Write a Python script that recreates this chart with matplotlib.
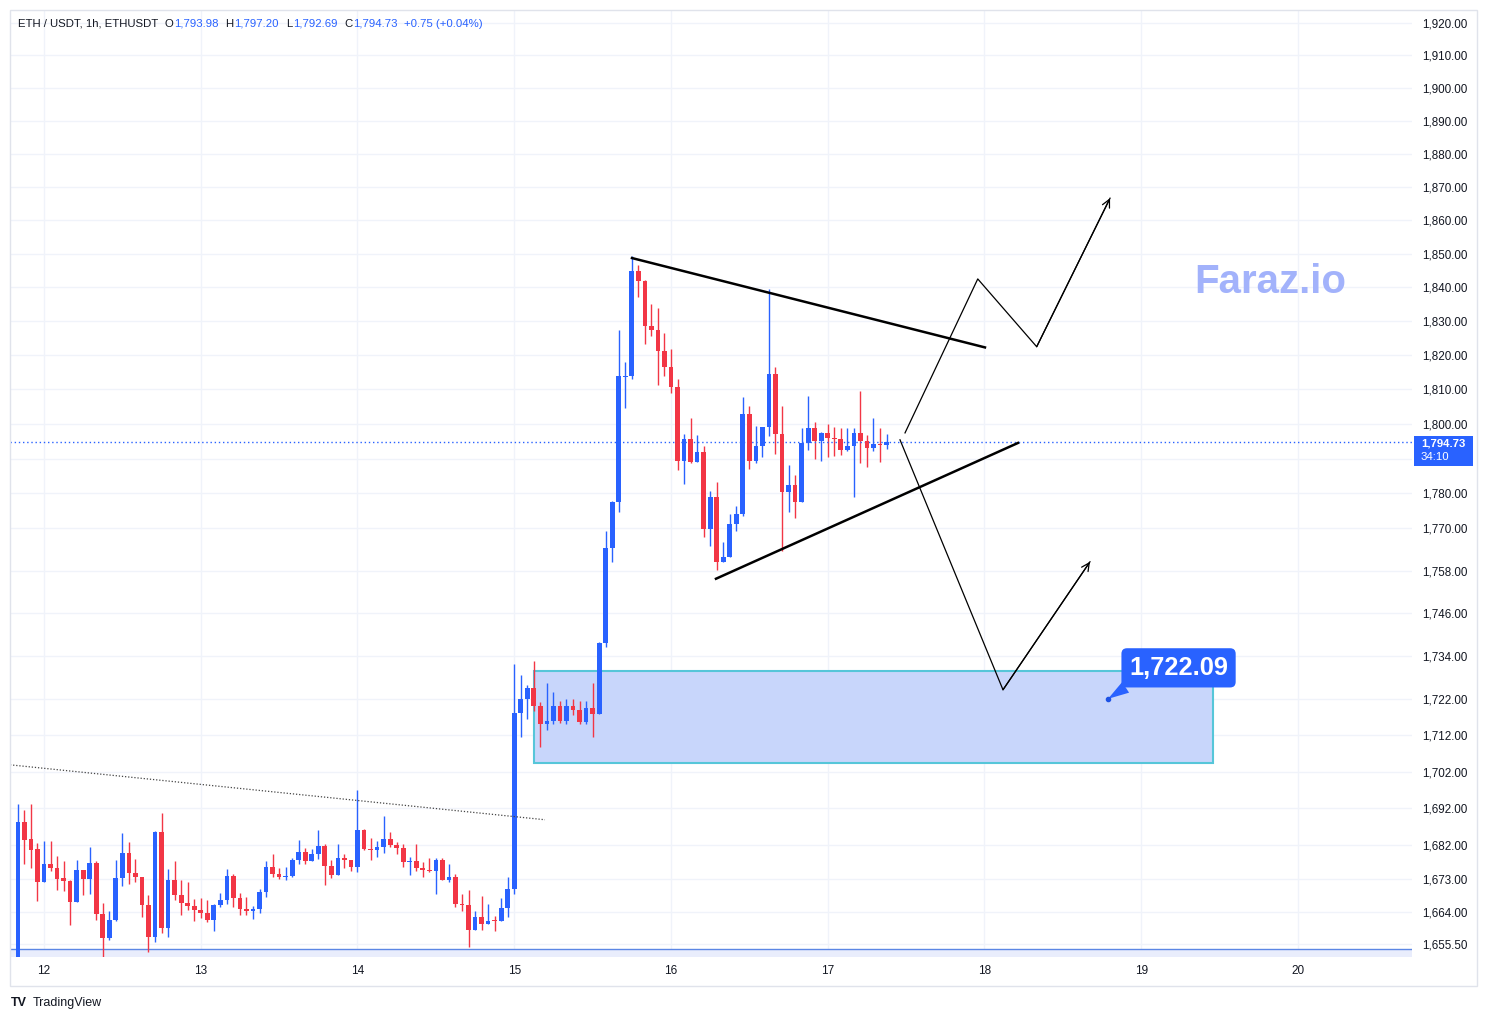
import numpy as np
import matplotlib
matplotlib.use('Agg')
import matplotlib.pyplot as plt
from matplotlib.patches import Rectangle
from matplotlib.ticker import FixedLocator, NullLocator, FuncFormatter

plt.rcParams['font.family'] = ['Liberation Sans', 'DejaVu Sans']

W, H = 1487, 1021
UP = '#2962ff'
DOWN = '#f23645'
TXT = '#131722'

# hourly candles, first one at day 11 20:00
opens = [1640.0, 1688.3, 1683.6, 1681.0, 1672.0, 1676.8, 1675.8, 1673.1, 1672.4, 1666.6,
         1675.4, 1672.8, 1677.3, 1663.6, 1657.0, 1661.8, 1673.2, 1679.9, 1674.5, 1673.4,
         1666.0, 1657.2, 1685.5, 1659.7, 1672.7, 1668.5, 1666.4, 1665.5, 1664.5, 1663.7,
         1661.9, 1666.0, 1667.2, 1673.8, 1667.8, 1664.8, 1664.2, 1664.8, 1669.5, 1676.1,
         1674.2, 1673.4, 1673.8, 1678.1, 1680.2, 1677.7, 1679.6, 1681.9, 1676.4, 1673.9,
         1678.4, 1678.1, 1676.1, 1686.2, 1681.1, 1680.6, 1681.5, 1683.8, 1682.1, 1681.2,
         1677.5, 1677.8, 1675.9, 1675.3, 1675.0, 1678.1, 1672.7, 1673.4, 1666.2, 1665.9,
         1659.2, 1662.8, 1660.8, 1661.6, 1661.5, 1665.1, 1670.2, 1718.1, 1722.1, 1725.0,
         1720.1, 1715.0, 1716.0, 1720.2, 1716.0, 1720.2, 1719.0, 1715.8, 1719.6, 1717.9,
         1737.5, 1764.4, 1777.4, 1813.6, 1813.9, 1844.9, 1842.0, 1828.5, 1827.5, 1821.2,
         1816.6, 1810.7, 1789.3, 1795.7, 1789.0, 1792.0, 1769.7, 1779.0, 1760.4, 1761.9,
         1771.2, 1774.0, 1802.9, 1789.3, 1793.5, 1799.1, 1814.5, 1797.2, 1780.3, 1782.3,
         1777.6, 1794.5, 1798.9, 1795.0, 1797.5, 1796.0, 1795.6, 1792.4, 1793.7, 1797.5,
         1795.1, 1793.1, 1794.2, 1793.98]
highs = [1693.2, 1691.6, 1693.2, 1682.6, 1683.1, 1683.1, 1679.0, 1677.7, 1672.5, 1678.1,
         1675.4, 1681.5, 1677.7, 1666.4, 1664.4, 1677.9, 1685.3, 1682.9, 1678.3, 1673.5,
         1668.7, 1685.8, 1690.7, 1675.6, 1677.8, 1672.7, 1672.0, 1667.5, 1667.8, 1667.1,
         1666.1, 1669.1, 1675.6, 1674.3, 1669.1, 1668.0, 1665.5, 1670.2, 1677.7, 1679.6,
         1675.9, 1676.1, 1678.6, 1683.5, 1681.3, 1681.0, 1686.2, 1682.2, 1678.1, 1682.4,
         1679.7, 1678.1, 1697.0, 1686.4, 1684.0, 1683.2, 1690.0, 1685.5, 1682.9, 1682.4,
         1678.8, 1682.2, 1677.4, 1678.6, 1678.6, 1678.4, 1676.8, 1674.3, 1668.9, 1670.0,
         1664.2, 1668.4, 1666.2, 1663.0, 1667.8, 1673.4, 1731.9, 1728.8, 1725.9, 1732.5,
         1721.2, 1726.4, 1724.0, 1721.5, 1722.1, 1722.1, 1721.5, 1721.4, 1726.4, 1737.8,
         1769.2, 1777.7, 1827.3, 1818.0, 1849.3, 1846.6, 1842.2, 1835.2, 1833.9, 1826.4,
         1821.7, 1813.0, 1797.2, 1801.6, 1796.9, 1793.6, 1780.6, 1783.2, 1766.0, 1774.1,
         1776.3, 1807.8, 1805.3, 1799.4, 1799.2, 1839.4, 1816.6, 1805.3, 1788.1, 1785.2,
         1798.7, 1808.0, 1800.6, 1797.8, 1799.9, 1799.2, 1798.7, 1798.7, 1798.7, 1809.7,
         1796.9, 1801.6, 1798.9, 1797.20]
lows = [1638.0, 1676.8, 1675.7, 1666.9, 1672.0, 1675.1, 1670.0, 1669.6, 1660.6, 1666.6,
        1668.7, 1668.9, 1661.9, 1651.6, 1656.5, 1661.7, 1671.1, 1671.6, 1672.0, 1662.8,
        1653.4, 1656.1, 1658.5, 1657.2, 1667.1, 1663.3, 1664.6, 1661.7, 1662.4, 1661.2,
        1658.8, 1665.3, 1666.2, 1665.3, 1663.3, 1663.3, 1662.1, 1663.7, 1668.0, 1673.4,
        1672.9, 1672.5, 1673.4, 1676.8, 1676.8, 1677.7, 1678.3, 1671.2, 1673.2, 1673.9,
        1675.7, 1675.0, 1674.7, 1680.8, 1677.9, 1678.7, 1679.9, 1681.5, 1679.5, 1676.1,
        1673.9, 1675.0, 1673.4, 1674.8, 1668.9, 1672.7, 1672.1, 1665.3, 1664.2, 1654.7,
        1659.2, 1659.2, 1660.7, 1658.8, 1661.5, 1662.6, 1668.8, 1711.5, 1716.4, 1718.8,
        1708.9, 1713.6, 1715.0, 1715.5, 1715.2, 1717.7, 1715.0, 1715.0, 1711.5, 1717.9,
        1736.5, 1760.4, 1774.7, 1804.5, 1813.0, 1837.1, 1823.3, 1825.6, 1811.2, 1813.8,
        1809.1, 1786.8, 1782.7, 1788.7, 1789.0, 1767.4, 1765.0, 1758.1, 1760.4, 1761.8,
        1769.2, 1773.5, 1786.9, 1788.6, 1790.5, 1796.4, 1791.2, 1763.5, 1774.6, 1773.0,
        1777.4, 1792.4, 1789.8, 1789.3, 1790.5, 1790.7, 1791.0, 1792.1, 1778.9, 1788.8,
        1787.7, 1792.1, 1789.0, 1792.69]
closes = [1688.3, 1683.5, 1680.8, 1672.0, 1676.8, 1675.8, 1673.0, 1672.3, 1666.6, 1675.4,
          1672.8, 1677.3, 1663.6, 1657.0, 1661.8, 1673.2, 1679.9, 1674.5, 1673.4, 1666.0,
          1657.2, 1685.5, 1659.7, 1672.7, 1668.5, 1666.4, 1665.5, 1664.5, 1663.7, 1661.9,
          1666.0, 1667.2, 1673.8, 1667.8, 1664.7, 1664.2, 1664.8, 1669.5, 1676.1, 1674.2,
          1673.4, 1673.8, 1678.1, 1680.2, 1677.7, 1679.6, 1681.9, 1676.4, 1673.9, 1678.4,
          1678.1, 1676.1, 1686.2, 1681.1, 1680.6, 1681.5, 1683.8, 1682.1, 1681.2, 1677.5,
          1677.8, 1675.9, 1675.3, 1675.0, 1678.1, 1672.7, 1673.4, 1666.2, 1665.9, 1659.2,
          1662.8, 1660.8, 1661.6, 1661.5, 1665.1, 1670.2, 1718.1, 1722.1, 1725.0, 1720.1,
          1715.0, 1716.0, 1720.2, 1716.0, 1720.2, 1719.0, 1715.8, 1719.6, 1717.9, 1737.5,
          1764.4, 1777.4, 1813.8, 1814.0, 1844.9, 1842.0, 1828.5, 1827.5, 1821.2, 1816.6,
          1810.7, 1789.3, 1795.7, 1789.0, 1792.0, 1769.7, 1779.0, 1760.4, 1761.9, 1771.2,
          1774.0, 1802.9, 1789.3, 1793.5, 1799.1, 1814.5, 1797.2, 1780.3, 1782.3, 1777.6,
          1794.5, 1798.9, 1795.0, 1797.5, 1796.0, 1795.6, 1792.4, 1793.7, 1797.5, 1795.1,
          1793.1, 1794.2, 1793.98, 1794.73]
last_price = 1794.73

price_ticks = [1655.5, 1664, 1673, 1682, 1692, 1702, 1712, 1722, 1734, 1746, 1758, 1770,
               1780, 1790, 1800, 1810, 1820, 1830, 1840, 1850, 1860, 1870, 1880, 1890,
               1900, 1910, 1920]
day_ticks = [12, 13, 14, 15, 16, 17, 18, 19, 20]

# drawings (x in days, y in price)
tri_upper_x, tri_upper_y = [15.751, 18.003], [1848.7, 1822.3]
tri_lower_x, tri_lower_y = [16.287, 18.214], [1755.7, 1794.5]
bull_x = [17.493, 17.957, 18.333, 18.801]
bull_y = [1797.4, 1842.5, 1822.5, 1866.6]
bear_x = [17.461, 18.118, 18.673]
bear_y = [1795.4, 1724.6, 1760.5]
trend_x, trend_y = [11.783, 15.196], [1703.9, 1688.9]
zone_x, zone_y = [15.126, 19.458], [1704.4, 1729.9]
base_level = 1654.2
callout_pt = (18.788, 1722.09)
callout_box = (19.238, 1730.7)

t = 11 + 20 / 24 + np.arange(len(opens)) / 24
o, h, l, c = map(np.array, (opens, highs, lows, closes))

fig = plt.figure(figsize=(W / 100, H / 100), dpi=100)
ax = fig.add_axes([10 / W, 64 / H, 1402 / W, 947 / H])
ax.set_yscale('log')
ax.set_ylim(1652.0, 1924.0)
ax.set_xlim(11.7831, 20.7273)

ax.yaxis.set_major_locator(FixedLocator(price_ticks))
ax.yaxis.set_minor_locator(NullLocator())
ax.yaxis.set_major_formatter(FuncFormatter(lambda v, p: '' if v == 1790 else f'{v:,.2f}'))
ax.yaxis.tick_right()
ax.tick_params(axis='y', length=0, pad=7, labelsize=8.4, labelcolor=TXT)
ax.set_xticks(day_ticks)
ax.set_xticklabels([str(d) for d in day_ticks])
ax.tick_params(axis='x', length=0, pad=6, labelsize=8.5, labelcolor=TXT)
ax.grid(True, color='#f0f3fa', lw=1)
ax.set_axisbelow(True)
for s in ax.spines.values():
    s.set_visible(False)

# bottom level line + shade
ax.axhspan(1652.0, base_level, color='#e9edfc', lw=0, zorder=1)
ax.axhline(base_level, color='#5b86e5', lw=1, zorder=1.5)

# demand zone
ax.add_patch(Rectangle((zone_x[0], zone_y[0]), zone_x[1] - zone_x[0], zone_y[1] - zone_y[0],
                       facecolor='#c8d6fb', edgecolor='#56c6d9', lw=1.5, zorder=2))

ax.text(19.821, 1841.6, 'Faraz.io', ha='center', va='center', fontsize=29,
        fontweight='bold', color='#a2b2fb', zorder=1)

# candles
colors = np.where(c >= o, UP, DOWN)
ax.vlines(t, l, h, colors=colors, lw=1, zorder=3)
body = np.maximum(np.abs(c - o), 0.3)
ax.bar(t, body, bottom=np.minimum(o, c), width=0.72 / 24, color=colors, lw=0, zorder=4)

ax.axhline(last_price, color=UP, lw=1, ls=(0, (1, 2)), zorder=3)

ax.plot(trend_x, trend_y, color='#444444', lw=0.9, ls=(0, (1, 1.5)), zorder=5)
ax.plot(tri_upper_x, tri_upper_y, color='black', lw=1.8, zorder=6)
ax.plot(tri_lower_x, tri_lower_y, color='black', lw=1.8, zorder=6)
ax.plot(bull_x, bull_y, color='black', lw=0.9, zorder=6)
ax.plot(bear_x, bear_y, color='black', lw=0.9, zorder=6)
for xs, ys in ((bull_x, bull_y), (bear_x, bear_y)):
    ax.annotate('', xy=(xs[-1], ys[-1]), xytext=(xs[-2], ys[-2]),
                arrowprops=dict(arrowstyle='->', color='black', lw=0.9,
                                mutation_scale=14, shrinkA=0, shrinkB=0), zorder=6)

ax.annotate('1,722.09', xy=callout_pt, xytext=callout_box, ha='center', va='center',
            color='white', fontsize=18.3, fontweight='bold', zorder=8,
            bbox=dict(boxstyle='round,pad=0.3,rounding_size=0.22', fc=UP, ec='none'),
            arrowprops=dict(arrowstyle='wedge,tail_width=0.5', fc=UP, ec='none',
                            shrinkA=0, shrinkB=0, relpos=(0.1, 0.05)))
ax.plot(*callout_pt, 'o', ms=3, color='#1e53e5', zorder=9)

# price label on the right scale
fig.patches.append(Rectangle((1414 / W, 1 - 466 / H), 59 / W, 30 / H,
                             transform=fig.transFigure, fc=UP, ec='none', zorder=5))
fig.text(1421 / W, 1 - 443 / H, f'{last_price:,.2f}', color='white', fontsize=8.2,
         fontweight='bold', va='center', zorder=6)
fig.text(1421 / W, 1 - 457 / H, '34:10', color='white', fontsize=8.2, va='center', zorder=6)

# outer frame
fig.patches.append(Rectangle((10 / W, 1 - 986 / H), 1467 / W, 976 / H, transform=fig.transFigure,
                             fill=False, ec='#e0e3eb', lw=1, zorder=10))

# header, each piece placed right after the previous one
anchor = fig.text(18 / W, 1 - 24 / H, 'ETH / USDT, 1h, ETHUSDT', color=TXT, fontsize=8.2,
                  va='center')
parts = [('O', TXT, 4.5), ('1,793.98', UP, 0.5), ('H', TXT, 5), ('1,797.20', UP, 0.5),
         ('L', TXT, 5), ('1,792.69', UP, 0.5), ('C', TXT, 5), ('1,794.73', UP, 0.5),
         ('+0.75 (+0.04%)', UP, 5)]
for s, col, gap in parts:
    anchor = ax.annotate(s, xy=(1, 0.5), xycoords=anchor, xytext=(gap, 0),
                         textcoords='offset points', va='center', ha='left',
                         color=col, fontsize=8.2, annotation_clip=False)

fig.text(33 / W, 1 - 1003 / H, 'TradingView', color=TXT, fontsize=9, va='center')
fig.text(11 / W, 1 - 1003 / H, 'TV', color=TXT, fontsize=9, fontweight='heavy', va='center')

fig.savefig('out.png', dpi=100, facecolor='white')
